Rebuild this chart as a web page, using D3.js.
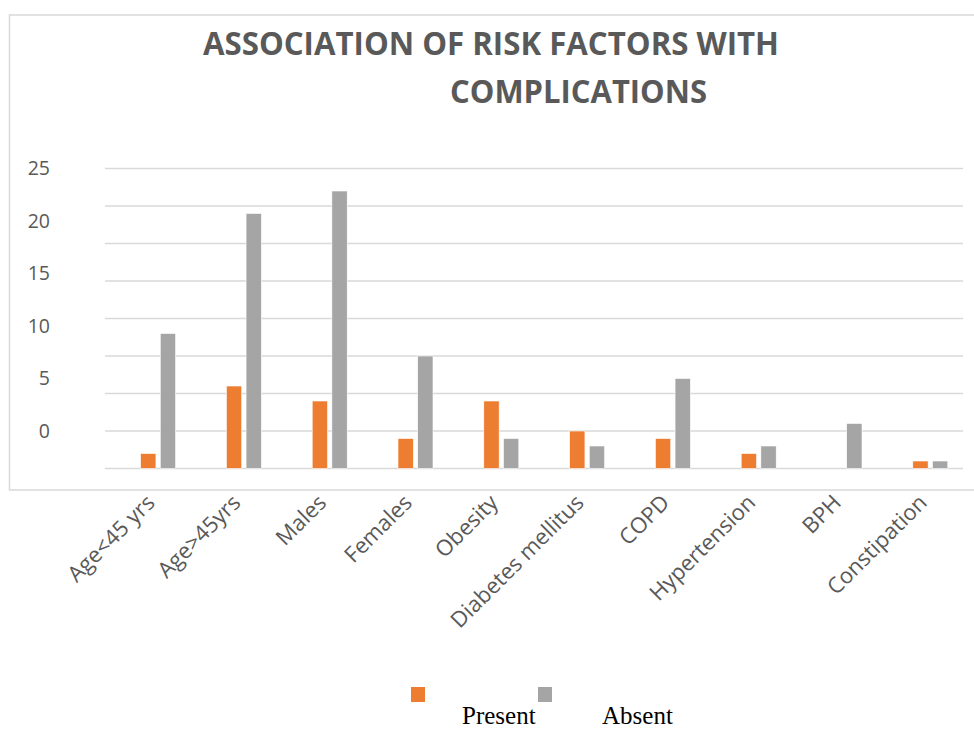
<!DOCTYPE html>
<html>
<head>
<meta charset="utf-8">
<script src="https://cdn.jsdelivr.net/npm/d3@7"></script>
<style>
  body { margin: 0; background: #fff; }
  svg { display: block; }
</style>
</head>
<body>
<svg id="barchart" width="974" height="729"></svg>
<script>
// data
var categories = [
  "Age<45 yrs", "Age>45yrs", "Males", "Females", "Obesity",
  "Diabetes mellitus", "COPD", "Hypertension", "BPH", "Constipation"
];
var seriesNames = ["Present", "Absent"];
var presentValues = [2, 11, 9, 4, 9, 5, 4, 2, 0, 1];
var absentValues = [18, 34, 37, 15, 4, 3, 12, 3, 6, 1];
var gridTicks = [0, 5, 10, 15, 20, 25, 30, 35, 40];
// the printed axis labels (they do not sit on the gridlines in the original)
var yTickLabels = ["25", "20", "15", "10", "5", "0"];
var colors = ["#ED7D31", "#A5A5A5"];

var svg = d3.select("#barchart");
var textColor = "#595959";
var gridColor = "#D9D9D9";

var dimensions = {
  gridLeft: 105,
  gridRight: 963,
  bandLeft: 115.2,
  bandRight: 973.2,
  top: 168.5,
  bottom: 468.5,
};

var dataset = categories.map(function (c, i) {
  return { category: c, values: [presentValues[i], absentValues[i]] };
});

// outer frame
svg
  .append("rect")
  .attr("x", 9.5)
  .attr("y", 15)
  .attr("width", 974)
  .attr("height", 475)
  .attr("fill", "none")
  .attr("stroke", gridColor)
  .attr("stroke-width", 1.5);

// title
var title = svg
  .append("g")
  .attr("fill", textColor)
  .style("font-family", "'Open Sans', sans-serif")
  .style("font-weight", "bold")
  .style("font-size", "32px");
title
  .append("text")
  .attr("x", 203)
  .attr("y", 55)
  .attr("textLength", 576)
  .attr("lengthAdjust", "spacingAndGlyphs")
  .text("ASSOCIATION OF RISK FACTORS WITH");
title
  .append("text")
  .attr("x", 450)
  .attr("y", 103)
  .attr("textLength", 257)
  .attr("lengthAdjust", "spacingAndGlyphs")
  .text("COMPLICATIONS");

// scales
var yScale = d3
  .scaleLinear()
  .domain([0, 40])
  .range([dimensions.bottom, dimensions.top]);

var xScale = d3
  .scaleBand()
  .domain(categories)
  .range([dimensions.bandLeft, dimensions.bandRight])
  .padding(0);

var xInner = d3
  .scaleBand()
  .domain(seriesNames)
  .range([-17.5, 17.5])
  .paddingInner(0.22)
  .paddingOuter(0);

// gridlines
svg
  .append("g")
  .selectAll("line")
  .data(gridTicks)
  .enter()
  .append("line")
  .attr("x1", dimensions.gridLeft)
  .attr("x2", dimensions.gridRight)
  .attr("y1", function (d) {
    return yScale(d);
  })
  .attr("y2", function (d) {
    return yScale(d);
  })
  .attr("stroke", gridColor)
  .attr("stroke-width", 1.3);

// y labels, spread the way the original shows them
var labelScale = d3
  .scalePoint()
  .domain(yTickLabels)
  .range([yScale(40), yScale(5)]);

svg
  .append("g")
  .selectAll("text")
  .data(yTickLabels)
  .enter()
  .append("text")
  .attr("x", 50)
  .attr("y", function (d) {
    return labelScale(d);
  })
  .attr("dy", "0.35em")
  .attr("text-anchor", "end")
  .attr("fill", textColor)
  .style("font-family", "'Open Sans', sans-serif")
  .style("font-size", "19.5px")
  .text(function (d) {
    return d;
  });

// bars
var groups = svg
  .append("g")
  .selectAll("g")
  .data(dataset)
  .enter()
  .append("g")
  .attr("transform", function (d) {
    return "translate(" + (xScale(d.category) + xScale.bandwidth() / 2) + ",0)";
  });

groups
  .selectAll("rect")
  .data(function (d) {
    return d.values.map(function (v, i) {
      return { series: seriesNames[i], value: v, color: colors[i] };
    });
  })
  .enter()
  .append("rect")
  .attr("x", function (d) {
    return xInner(d.series);
  })
  .attr("width", xInner.bandwidth())
  .attr("y", function (d) {
    return yScale(d.value);
  })
  .attr("height", function (d) {
    return yScale(0) - yScale(d.value);
  })
  .attr("fill", function (d) {
    return d.color;
  })
  .attr("stroke", "#fff")
  .attr("stroke-width", function (d) {
    return d.value > 0 ? 0.6 : 0;
  });

// category labels
svg
  .append("g")
  .selectAll("text")
  .data(categories)
  .enter()
  .append("text")
  .attr("text-anchor", "end")
  .attr("fill", textColor)
  .style("font-family", "'Open Sans', sans-serif")
  .style("font-size", "22px")
  .attr("transform", function (d) {
    var cx = xScale(d) + xScale.bandwidth() / 2 - 2;
    return "translate(" + cx + ",504) rotate(-45)";
  })
  .text(function (d) {
    return d;
  });

// legend
var legendSquares = [411, 538];
var legendTexts = [462, 602];
var legend = svg.append("g");
seriesNames.forEach(function (name, i) {
  legend
    .append("rect")
    .attr("x", legendSquares[i])
    .attr("y", 687)
    .attr("width", 14)
    .attr("height", 15)
    .attr("fill", colors[i]);
  legend
    .append("text")
    .attr("x", legendTexts[i])
    .attr("y", 724)
    .attr("fill", "#000")
    .style("font-family", "'Liberation Serif', 'Times New Roman', serif")
    .style("font-size", "25px")
    .text(name);
});
</script>
</body>
</html>
